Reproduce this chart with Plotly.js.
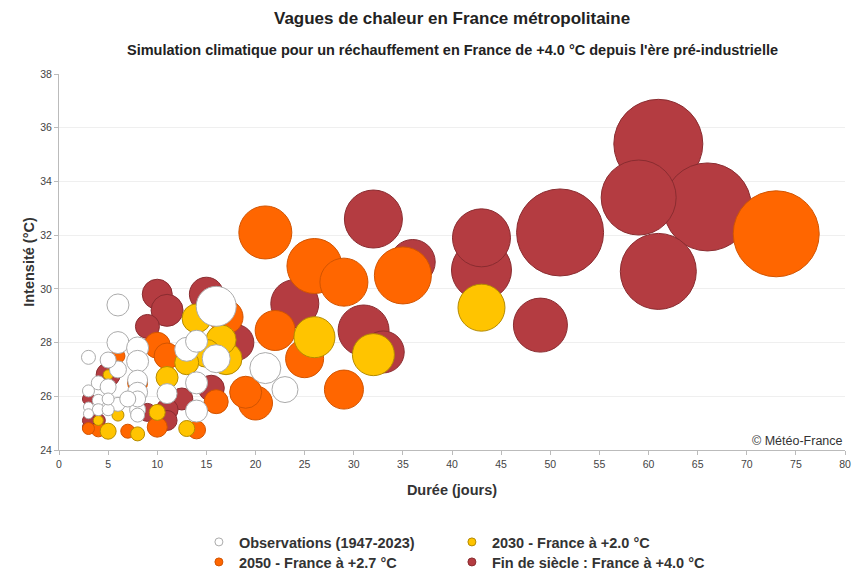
<!DOCTYPE html>
<html><head><meta charset="utf-8">
<script src="https://cdn.plot.ly/plotly-3.0.1.min.js"></script>
<style>html,body{margin:0;padding:0;background:#fff}#chart{width:863px;height:570px}</style>
</head><body><div id="chart"></div>
<script>
// Names
const seriesNames = ["Observations (1947-2023)", "2030 - France à +2.0 °C", "2050 - France à +2.7 °C", "Fin de siècle : France à +4.0 °C"];

// Fin de siècle : durée (jours), intensité (°C), sévérité (taille)
const finDuree = [61, 66, 51, 61, 59, 43, 43, 32, 49, 24, 31, 36, 33, 15, 10, 11, 18, 9, 5, 15.5, 12.5, 11, 11, 9, 3, 4, 3, 3];
const finIntensite = [35.4, 33.05, 32.1, 30.65, 33.4, 30.7, 31.9, 32.6, 28.65, 29.45, 28.45, 31.0, 27.65, 29.8, 29.8, 29.2, 28.0, 28.6, 26.8, 26.3, 25.9, 25.5, 25.1, 25.4, 24.85, 25.1, 25.9, 25.1];
const finSeverite = [89, 88, 87, 76, 75, 60, 58, 58, 54, 48, 51, 45, 42, 34, 30, 32, 36, 24, 24, 26, 22, 22, 20, 18, 12, 14, 12, 12];

// 2050
const d2050Duree = [73, 35, 26, 21, 29, 22, 25, 29, 20, 19, 17, 10, 11, 16, 10, 14, 8, 6, 7, 4, 3];
const d2050Intensite = [32.05, 30.5, 30.85, 32.1, 30.25, 28.45, 27.4, 26.25, 25.75, 26.15, 28.95, 27.9, 27.5, 25.8, 24.85, 24.75, 26.5, 27.5, 24.7, 24.75, 24.8];
const d2050Severite = [86, 57, 55, 53, 48, 40, 38, 39, 34, 32, 34, 26, 26, 24, 20, 18, 20, 14, 14, 14, 12];

// 2030
const d2030Duree = [43, 32, 26, 14, 17, 16.5, 15, 11, 13, 10, 13, 8, 5, 5, 4, 6];
const d2030Intensite = [29.3, 27.55, 28.2, 28.9, 27.4, 28.1, 27.6, 26.7, 27.25, 25.4, 24.8, 24.6, 24.7, 26.8, 25.1, 25.3];
const d2030Severite = [47, 42, 41, 29, 32, 30, 28, 22, 24, 16, 16, 14, 16, 10, 10, 12];

// Observations
const obsDuree = [16, 21, 23, 16, 6, 6, 8, 13, 14, 8, 14, 11, 8, 6, 5, 3, 8, 8, 4, 5, 3, 6, 4, 3, 4, 5, 3, 8, 8, 14, 7, 5];
const obsIntensite = [29.35, 27.05, 26.25, 27.4, 29.4, 28.0, 27.8, 27.75, 28.05, 27.3, 26.5, 26.1, 26.6, 27.0, 27.35, 27.45, 26.15, 25.5, 26.5, 26.35, 26.2, 25.7, 25.85, 25.6, 25.5, 25.5, 25.35, 25.3, 25.9, 25.45, 25.9, 25.9];
const obsSeverite = [40, 31, 26, 28, 22, 22, 22, 24, 22, 22, 22, 20, 20, 17, 16, 14, 20, 16, 14, 16, 12, 14, 12, 10, 12, 12, 10, 14, 16, 22, 16, 12];

// Axis ticks
const xTicks = [0, 5, 10, 15, 20, 25, 30, 35, 40, 45, 50, 55, 60, 65, 70, 75, 80];
const yTicks = [24, 26, 28, 30, 32, 34, 36, 38];

const titleText = "Vagues de chaleur en France métropolitaine";
const subtitleText = "Simulation climatique pour un réchauffement en France de +4.0 °C depuis l'ère pré-industrielle";
const xTitle = "Durée (jours)";
const yTitle = "Intensité (°C)";
const sourceText = "© Météo-France";

const fills = {obs: '#FFFFFF', c2030: '#FFC400', c2050: '#FF6600', fin: '#B43C41'};
const lines = {obs: '#ABABAB', c2030: '#B58B00', c2050: '#D25400', fin: '#8A2C30'};

function bubble(name, x, y, s, fill, line) {
  return {
    type: 'scatter', mode: 'markers', name: name, x: x, y: y, showlegend: false,
    marker: {size: s, sizemode: 'diameter', sizeref: 1, color: fill, opacity: 1,
             line: {color: line, width: 1}},
    hoverinfo: 'x+y'
  };
}
// legend-only entries (small constant symbols, as in the original legend)
function legendEntry(name, fill, line, legendId) {
  return {type: 'scatter', mode: 'markers', name: name, x: [null], y: [null], showlegend: true,
          legend: legendId,
          marker: {size: 8, color: fill, line: {color: line, width: 1}}};
}

const traces = [
  bubble(seriesNames[3], finDuree, finIntensite, finSeverite, fills.fin, lines.fin),
  bubble(seriesNames[2], d2050Duree, d2050Intensite, d2050Severite, fills.c2050, lines.c2050),
  bubble(seriesNames[1], d2030Duree, d2030Intensite, d2030Severite, fills.c2030, lines.c2030),
  bubble(seriesNames[0], obsDuree, obsIntensite, obsSeverite, fills.obs, lines.obs),
  legendEntry(seriesNames[0], fills.obs, lines.obs, 'legend'),
  legendEntry(seriesNames[1], fills.c2030, lines.c2030, 'legend'),
  legendEntry(seriesNames[2], fills.c2050, lines.c2050, 'legend2'),
  legendEntry(seriesNames[3], fills.fin, lines.fin, 'legend2')
];

const font = 'Liberation Sans, Arial, sans-serif';
function legendBox(yTop) {
  return {orientation: 'h', traceorder: 'normal', itemsizing: 'trace',
          entrywidth: 208, entrywidthmode: 'pixels',
          x: 0.178, xanchor: 'left', yref: 'container', y: yTop, yanchor: 'top',
          font: {family: font, size: 14.5, color: '#333', weight: 'bold'},
          bgcolor: 'rgba(0,0,0,0)', tracegroupgap: 0};
}
const layout = {
  width: 863, height: 570,
  margin: {l: 59, r: 18, t: 74, b: 120},
  paper_bgcolor: '#fff', plot_bgcolor: '#fff',
  font: {family: font, color: '#333'},
  showlegend: true,
  legend: legendBox(0.0772),
  legend2: legendBox(0.0421),
  xaxis: {range: [0, 80], tickvals: xTicks, ticktext: xTicks.map(String),
          showgrid: false, zeroline: false, showline: true, linecolor: '#bbb', linewidth: 1,
          ticks: 'outside', ticklen: 4, tickcolor: '#bbb',
          tickfont: {size: 10.5, color: '#444'},
          title: {text: xTitle, standoff: 16, font: {size: 14.5, color: '#333', weight: 'bold'}}},
  yaxis: {range: [24, 38], tickvals: yTicks, ticktext: yTicks.map(String),
          showgrid: true, gridcolor: '#efefef', zeroline: false, showline: true, linecolor: '#bbb', linewidth: 1,
          ticks: 'outside', ticklen: 4, tickcolor: '#bbb',
          tickfont: {size: 10.5, color: '#444'},
          title: {text: yTitle, standoff: 2, font: {size: 14.5, color: '#333', weight: 'bold'}}},
  annotations: [
    {text: titleText, xref: 'paper', yref: 'paper', x: 0.5, y: 1, yshift: 56, xanchor: 'center', yanchor: 'middle',
     showarrow: false, font: {size: 17, color: '#222', weight: 'bold', family: font}},
    {text: subtitleText, xref: 'paper', yref: 'paper', x: 0.5, y: 1, yshift: 24, xanchor: 'center', yanchor: 'middle',
     showarrow: false, font: {size: 14.5, color: '#222', weight: 'bold', family: font}},
    {text: sourceText, xref: 'paper', yref: 'paper', x: 1, y: 0, yshift: 9, xanchor: 'right', yanchor: 'middle',
     showarrow: false, font: {size: 12.5, color: '#333', family: font}}
  ]
};

Plotly.newPlot('chart', traces, layout, {displayModeBar: false, staticPlot: true});
</script>
</body></html>
